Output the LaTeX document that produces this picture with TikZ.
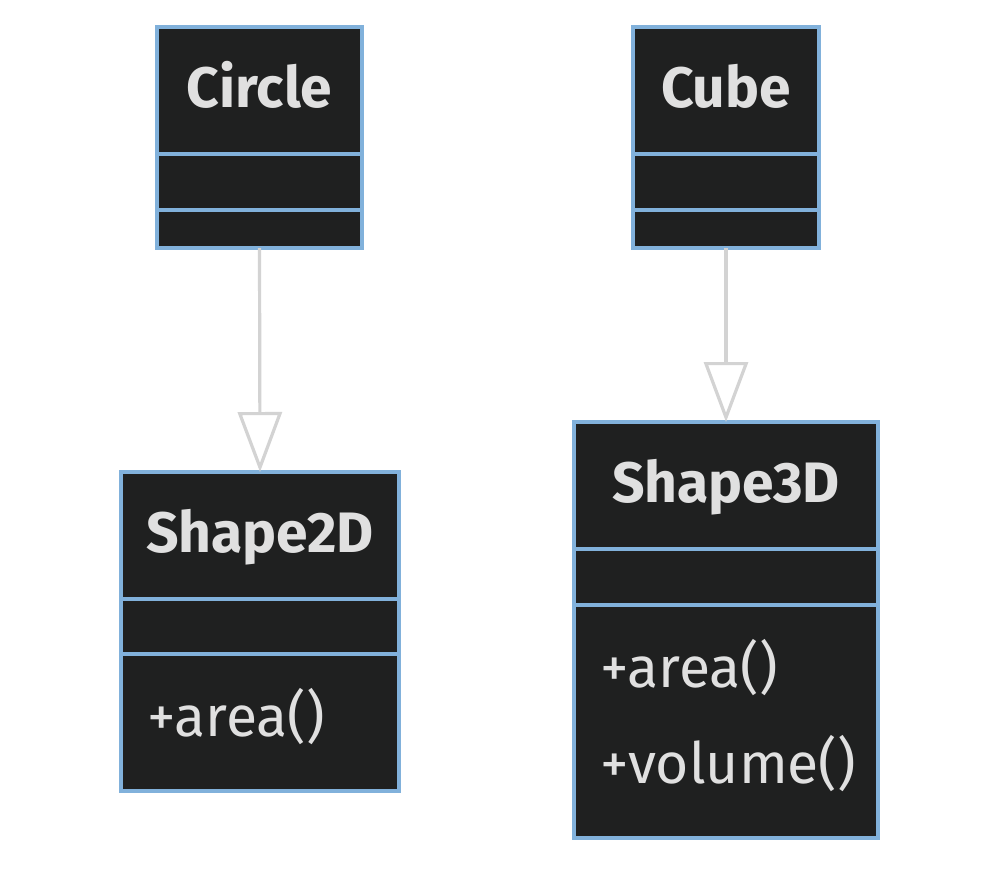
\documentclass[tikz,border=0pt]{standalone}
\usepackage{fontspec}
\setmainfont{Fira Sans}
\usetikzlibrary{arrows.meta}
\definecolor{boxfill}{HTML}{1F2020}
\definecolor{boxline}{HTML}{81B1DB}
\definecolor{txt}{HTML}{E0E0E0}
\definecolor{edge}{HTML}{D3D3D3}
\begin{document}
\begin{tikzpicture}[x=1pt,y=-1pt,
  classbox/.style={draw=boxline, fill=boxfill, line width=3.2pt, inner sep=0pt, outer sep=0pt},
  classtitle/.style={text=txt, font=\fontsize{57}{62}\selectfont\bfseries, inner sep=0pt, anchor=base},
  member/.style={text=txt, font=\fontsize{57}{62}\selectfont, inner sep=0pt, anchor=base west},
  divider/.style={draw=boxline, line width=3.2pt},
  inherit/.style={draw=edge, line width=3.2pt, -{Triangle[open, length=60pt, width=44pt, fill=white]}}]
\useasboundingbox[fill=white] (0,0) rectangle (1000,868);
% Circle
\node[classbox, minimum width=205pt, minimum height=221pt] (circle) at (259.5,137.5) {};
\node[classtitle] (circlet) at (259.5,107) {Circle};
\draw[divider] (circle.west |- 0,154) -- (circle.east |- 0,154);
\draw[divider] (circle.west |- 0,210) -- (circle.east |- 0,210);
% Cube
\node[classbox, minimum width=186pt, minimum height=221pt] (cube) at (726,137.5) {};
\node[classtitle] (cubet) at (726,107) {Cube};
\draw[divider] (cube.west |- 0,154) -- (cube.east |- 0,154);
\draw[divider] (cube.west |- 0,210) -- (cube.east |- 0,210);
% Shape2D
\node[classbox, minimum width=278pt, minimum height=319pt] (s2d) at (260,631.5) {};
\node[classtitle] (s2dt) at (260,552) {Shape2D};
\draw[divider] (s2d.west |- 0,599) -- (s2d.east |- 0,599);
\draw[divider] (s2d.west |- 0,654) -- (s2d.east |- 0,654);
\node[member] (s2da) at (147,736) {+area()};
% Shape3D
\node[classbox, minimum width=304pt, minimum height=416pt] (s3d) at (726,630) {};
\node[classtitle] (s3dt) at (726,502) {Shape3D};
\draw[divider] (s3d.west |- 0,549) -- (s3d.east |- 0,549);
\draw[divider] (s3d.west |- 0,605) -- (s3d.east |- 0,605);
\node[member] (s3da) at (600,687) {+area()};
\node[member] (s3dv) at (600,783) {+volume()};
% inheritance
\draw[inherit] (circle.south) -- (s2d.north);
\draw[inherit] (cube.south) -- (s3d.north);
\end{tikzpicture}
\end{document}
